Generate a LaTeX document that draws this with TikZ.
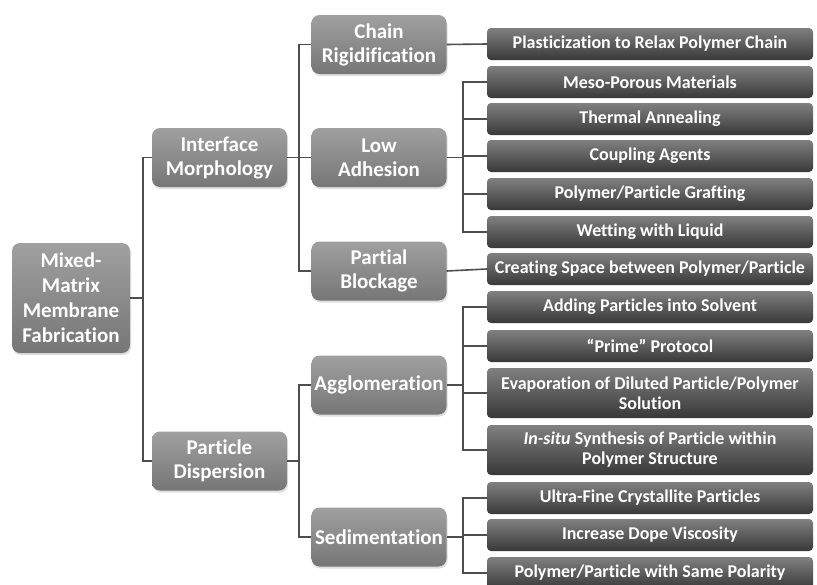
\documentclass[tikz,border=0pt]{standalone}
\usepackage{fontspec}
\setmainfont{Carlito}[Ligatures={TeX,NoCommon}]
\usepackage{tikz}
\usetikzlibrary{positioning,shadows}

\definecolor{boxtop}{HTML}{A0A0A0}
\definecolor{boxmid}{HTML}{828282}
\definecolor{boxbot}{HTML}{767676}
\definecolor{leaftop}{HTML}{808080}
\definecolor{leafmid}{HTML}{424242}
\definecolor{leafbot}{HTML}{383838}
\definecolor{linkgray}{HTML}{4E4E4E}

\tikzset{
  topic/.style={rectangle,rounded corners=8pt,inner sep=0pt,align=center,text=white,
    top color=boxtop,middle color=boxmid,bottom color=boxbot,
    minimum width=135pt,minimum height=59pt,
    font=\bfseries\fontsize{21}{24}\selectfont,
    drop shadow={opacity=0.25,shadow xshift=1pt,shadow yshift=-2pt}},
  leaf/.style={rectangle,rounded corners=4pt,inner sep=0pt,align=center,text=white,
    top color=leaftop,middle color=leafmid,bottom color=leafbot,
    minimum width=326pt,minimum height=32pt,
    font=\bfseries\fontsize{18}{20}\selectfont},
  tallleaf/.style={leaf,minimum height=50pt},
  link/.style={draw=linkgray,line width=1.6pt}
}

\begin{document}
\begin{tikzpicture}[x=1pt,y=-1pt]
\useasboundingbox[fill=white] (0,0) rectangle (817,584);

\node[topic,minimum width=118pt,minimum height=110pt,font=\bfseries\fontsize{21}{25}\selectfont] (root) at (71,298) {Mixed-\\Matrix\\Membrane\\Fabrication};
\node[topic] (morph) at (219.5,157.5) {Interface\\Morphology};
\node[topic] (disp) at (219.5,461) {Particle\\Dispersion};

\node[topic] (chain) at (379,44.5) {Chain\\Rigidification};
\node[topic] (adhes) at (379,157.5) {Low\\Adhesion};
\node[topic] (block) at (379,271) {Partial\\Blockage};
\node[topic] (agglo) at (379,385) {Agglomeration};
\node[topic] (sedim) at (379,537) {Sedimentation};

\node[leaf] (plast) at (650,44) {Plasticization to Relax Polymer Chain};
\node[leaf] (meso) at (650,82) {Meso-Porous Materials};
\node[leaf] (therm) at (650,119) {Thermal Annealing};
\node[leaf] (coupl) at (650,156) {Coupling Agents};
\node[leaf] (graft) at (650,194) {Polymer/Particle Grafting};
\node[leaf] (wet) at (650,232) {Wetting with Liquid};
\node[leaf] (space) at (650,269) {Creating Space between Polymer/Particle};
\node[leaf] (solv) at (650,307) {Adding Particles into Solvent};
\node[leaf] (prime) at (650,346) {“Prime” Protocol};
\node[tallleaf] (evap) at (650,393) {Evaporation of Diluted Particle/Polymer\\Solution};
\node[tallleaf] (situ) at (650,450) {\textit{In-situ} Synthesis of Particle within\\Polymer Structure};
\node[leaf] (fine) at (650,498) {Ultra-Fine Crystallite Particles};
\node[leaf] (visc) at (650,535) {Increase Dope Viscosity};
\node[leaf] (polar) at (650,573) {Polymer/Particle with Same Polarity};

\draw[link] (root.east) -- ++(13,0) coordinate (rj) |- (morph.west) (rj) |- (disp.west);
\draw[link] (morph.east) -- ++(12,0) coordinate (mj) |- (chain.west) (mj) |- (block.west);
\draw[link] (morph.east) -- (adhes.west);
\draw[link] (disp.east) -- ++(12,0) coordinate (dj) |- (agglo.west) (dj) |- (sedim.west);

\draw[link] (chain.east) -- (plast.west);
\draw[link] (block.east) -- (space.west);
\draw[link] (adhes.east) -- ++(16,0) coordinate (aj);
\foreach \n in {meso,therm,coupl,graft,wet} \draw[link] (aj) |- (\n.west);
\draw[link] (agglo.east) -- ++(16,0) coordinate (gj);
\foreach \n in {solv,prime,evap,situ} \draw[link] (gj) |- (\n.west);
\draw[link] (sedim.east) -- ++(16,0) coordinate (sj);
\foreach \n in {fine,visc,polar} \draw[link] (sj) |- (\n.west);

\end{tikzpicture}
\end{document}
